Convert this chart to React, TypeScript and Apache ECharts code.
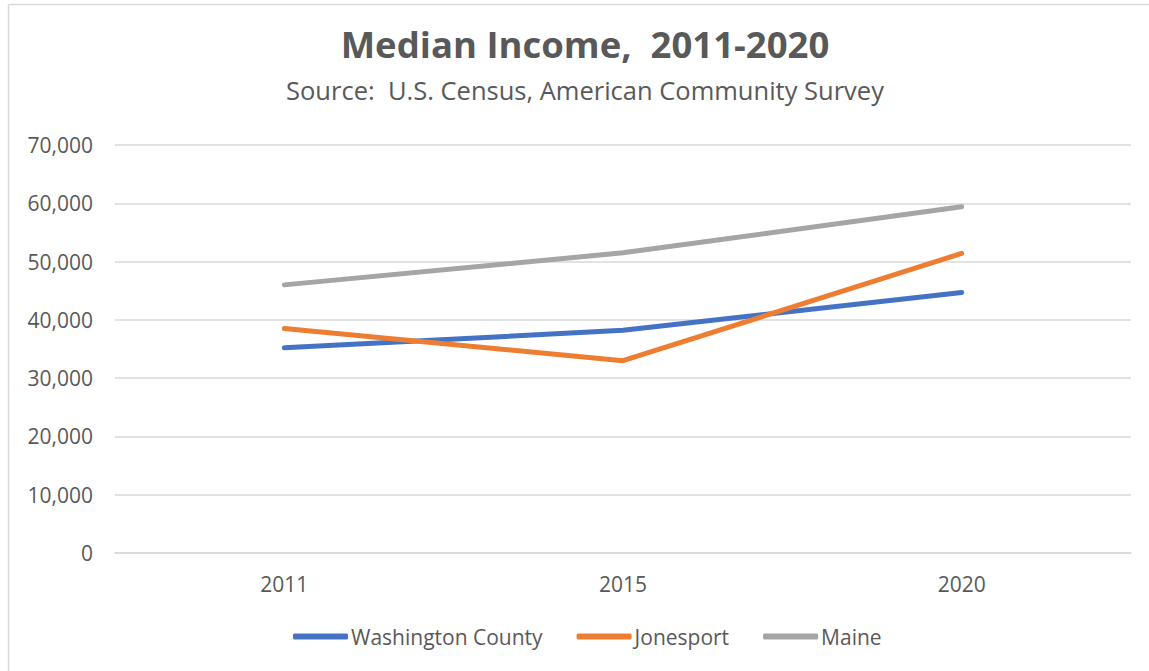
import React, { useEffect, useRef } from "react";
import * as echarts from "echarts";

const categories = ["2011", "2015", "2020"];
const washingtonCounty = [35200, 38200, 44700];
const jonesport = [38500, 33000, 51400];
const maine = [46000, 51500, 59400];
const seriesNames = ["Washington County", "Jonesport", "Maine"];
const colors = ["#4472C4", "#ED7D31", "#A5A5A5"];

const FONT = "'Open Sans', 'Noto Sans', sans-serif";

export default function App() {
  const ref = useRef<HTMLDivElement>(null);
  useEffect(() => {
    if (!ref.current) return;
    const chart = echarts.init(ref.current, undefined, { renderer: "svg" });
    const values = [washingtonCounty, jonesport, maine];
    chart.setOption({
      animation: false,
      backgroundColor: "#ffffff",
      title: {
        text: "Median Income,  2011-2020",
        subtext: "Source:  U.S. Census, American Community Survey",
        left: 585,
        textAlign: "center",
        top: 25,
        padding: 0,
        itemGap: 15,
        textStyle: { fontFamily: FONT, fontSize: 36.5, fontWeight: "bold", color: "#595959" },
        subtextStyle: { fontFamily: FONT, fontSize: 25.5, color: "#595959" },
      },
      legend: {
        bottom: 24,
        left: 293,
        padding: 0,
        itemWidth: 55,
        itemHeight: 6,
        itemGap: 34,
        icon: "roundRect",
        textStyle: { fontFamily: FONT, fontSize: 21, color: "#595959", padding: [0, 0, 0, -2] },
        data: seriesNames,
      },
      grid: { left: 115, right: 18, top: 145, bottom: 118 },
      xAxis: {
        type: "category",
        data: categories,
        boundaryGap: true,
        axisLine: { lineStyle: { color: "#d9d9d9", width: 1.5 } },
        axisTick: { show: false },
        axisLabel: { fontFamily: FONT, fontSize: 21, color: "#595959", margin: 20 },
      },
      yAxis: {
        type: "value",
        min: 0,
        max: 70000,
        interval: 10000,
        axisLine: { show: false },
        axisTick: { show: false },
        splitLine: { lineStyle: { color: "#d9d9d9", width: 1.5 } },
        axisLabel: {
          fontFamily: FONT,
          fontSize: 21,
          color: "#595959",
          margin: 22,
          formatter: (v: number) => v.toLocaleString("en-US"),
        },
      },
      graphic: [
        { type: "line", shape: { x1: 8.5, y1: 4.5, x2: 1149, y2: 4.5 }, style: { stroke: "#d9d9d9", lineWidth: 1.5 } },
        { type: "line", shape: { x1: 8.5, y1: 4.5, x2: 8.5, y2: 671 }, style: { stroke: "#d9d9d9", lineWidth: 1.5 } },
      ],
      series: seriesNames.map((name, i) => ({
        name,
        type: "line",
        data: values[i],
        symbol: "none",
        color: colors[i],
        lineStyle: { width: 5, color: colors[i], cap: "round", join: "round" },
      })),
    });
    return () => chart.dispose();
  }, []);
  return (
    <div style={{ position: "fixed", left: 0, top: 0, width: 1149, height: 671, background: "#fff" }}>
      <div ref={ref} style={{ width: 1149, height: 671 }} />
    </div>
  );
}
